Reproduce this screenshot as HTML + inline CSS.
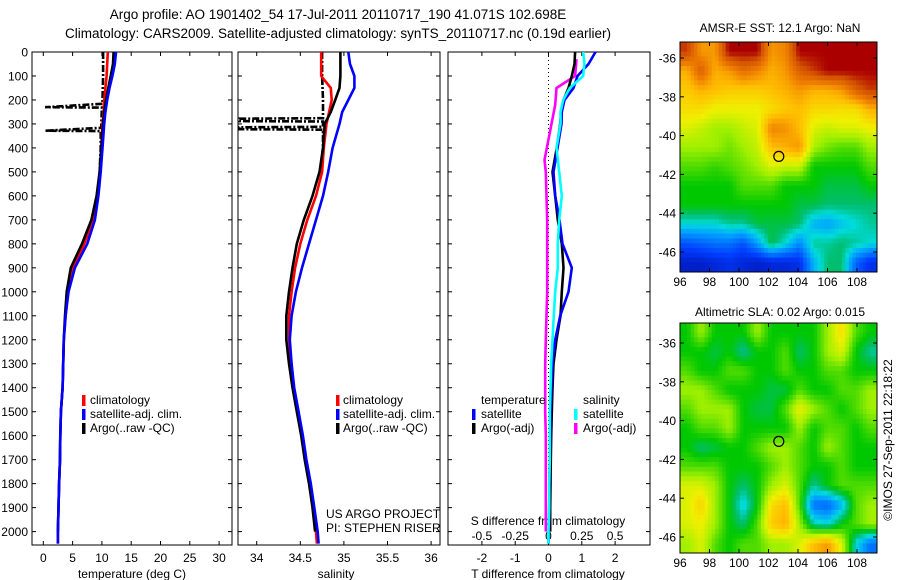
<!DOCTYPE html>
<html><head><meta charset="utf-8"><style>
body{margin:0;background:#fff;}
svg{display:block;font-family:"Liberation Sans",sans-serif;}
</style></head><body>
<svg id="fig" width="900" height="580" viewBox="0 0 900 580" xmlns="http://www.w3.org/2000/svg">
<text x="338" y="19" font-size="13.5" text-anchor="middle">Argo profile: AO 1901402_54 17-Jul-2011 20110717_190 41.071S 102.698E</text>
<text x="338" y="38" font-size="13.5" text-anchor="middle">Climatology: CARS2009. Satellite-adjusted climatology: synTS_20110717.nc (0.19d earlier)</text>
<g id="g"></g>
</svg>
<script>
// ---- data ----
const depths = [0,50,100,150,200,250,300,400,500,600,700,800,900,1000,1100,1200,1300,1400,1500,1600,1700,1800,1900,2000,2050];
const tempClim = [11,10.9,10.8,10.6,10.4,10.3,10.1,9.9,9.7,9.3,8.5,7.0,5.0,4.2,3.8,3.5,3.4,3.3,3.0,2.9,2.85,2.7,2.6,2.5,2.5];
const tempSat  = [12.4,12.2,11.8,11.3,10.9,10.6,10.4,10.1,9.8,9.4,8.8,7.5,5.4,4.3,3.8,3.5,3.4,3.3,3.0,2.9,2.85,2.7,2.6,2.5,2.5];
const argoDepths = [0,50,100,150,200,250,300,400,500,600,700,800,900,1000,1100,1200,1300,1400,1500,1600,1700,1800,1900,2000];
const tempArgo = [12,11.9,11.5,11.1,10.7,10.4,10.2,9.9,9.6,9.1,8.2,6.6,4.7,4.0,3.7,3.5,3.4,3.3,3.0,2.9,2.85,2.7,2.6,2.5];
const rawTempDepths = [0,100,200,216,230,232,300,316,328,330,400,500];
const rawTemp = [10.2,10.2,10.1,10.1,0.3,10.0,9.9,9.9,0.3,9.8,9.8,9.6];
const salClim = [34.74,34.74,34.74,34.85,34.86,34.83,34.80,34.77,34.75,34.68,34.58,34.5,34.44,34.4,34.37,34.37,34.39,34.42,34.47,34.52,34.56,34.61,34.65,34.68,34.69];
const salSat  = [35.05,35.07,35.12,35.12,35.05,34.98,34.95,34.87,34.82,34.76,34.68,34.6,34.52,34.45,34.4,34.38,34.4,34.43,34.48,34.53,34.57,34.62,34.66,34.7,34.71];
const salArgo = [34.96,34.96,34.96,34.95,34.9,34.85,34.78,34.76,34.72,34.64,34.54,34.46,34.41,34.37,34.34,34.34,34.37,34.41,34.46,34.51,34.55,34.6,34.64,34.67];
const rawSalDepths = [0,100,200,276,278,288,290,312,314,322,324,400,500];
const rawSal = [34.75,34.75,34.76,34.76,33.8,33.8,34.76,34.76,33.8,33.8,34.76,34.76,34.73];
const tDiffSat  = [1.41,1.2,0.87,0.75,0.48,0.4,0.39,0.27,0.15,0.2,0.33,0.42,0.7,0.6,0.35,0.2,0.12,0.09,0.06,0.05,0.04,0.03,0.02,0.01,0.0];
const tDiffArgo = [0.8,0.78,0.7,0.6,0.45,0.38,0.35,0.25,0.12,0.2,0.28,0.4,0.45,0.4,0.36,0.24,0.15,0.12,0.1,0.08,0.07,0.06,0.05,0.05];
const sDiffSat  = [0.26,0.27,0.26,0.16,0.11,0.09,0.09,0.06,0.08,0.1,0.08,0.07,0.07,0.05,0.04,0.03,0.02,0.015,0.01,0.01,0.01,0.005,0.005,0.0,0.0];
const sDiffArgoDepths = [30,100,150,220,450,500,600,700,800,900,1000,1100,1200,1300,1400,1500,1600,1700,1800,1900,2000];
const sDiffArgo = [0.21,0.2,0.06,0.05,-0.03,-0.02,-0.015,-0.01,-0.01,-0.01,-0.01,-0.015,-0.02,-0.025,-0.025,-0.025,-0.02,-0.02,-0.02,-0.02,-0.02];
const depthTicks = [0,100,200,300,400,500,600,700,800,900,1000,1100,1200,1300,1400,1500,1600,1700,1800,1900,2000];
const tempTicks = [0,5,10,15,20,25,30];
const salTicks = [34,34.5,35,35.5,36];
const tdTicks = [-2,-1,0,1,2];
const sdTicks = [-0.5,-0.25,0,0.25,0.5];
const sdTickLabels = ["-0.5","-0.25","0","0.25","0.5"];
const lonTicks = [96,98,100,102,104,106,108];
const latTicks = [-36,-38,-40,-42,-44,-46];
const sstGrid = [
[.9,.75,.75,.95,.95,.95,.75,.78,.95,.95,.95,.95,.95,.95],
[.72,.85,.72,.75,.82,.78,.72,.75,.85,.9,.95,.95,.95,.95],
[.68,.72,.7,.68,.68,.68,.7,.72,.75,.72,.72,.75,.85,.9],
[.65,.65,.62,.62,.62,.62,.65,.68,.7,.66,.66,.65,.65,.72],
[.6,.58,.55,.55,.58,.6,.78,.76,.7,.6,.58,.6,.6,.62],
[.55,.55,.55,.52,.55,.58,.7,.72,.75,.56,.52,.5,.5,.55],
[.5,.5,.48,.5,.52,.55,.6,.58,.58,.45,.45,.45,.45,.5],
[.45,.45,.45,.45,.5,.5,.5,.45,.45,.45,.42,.42,.42,.45],
[.45,.45,.45,.45,.45,.45,.45,.45,.42,.42,.4,.4,.4,.4],
[.35,.35,.35,.38,.38,.42,.42,.42,.4,.3,.28,.32,.35,.38],
[.18,.2,.22,.22,.18,.28,.42,.35,.25,.38,.38,.4,.38,.35],
[.08,.08,.1,.12,.1,.08,.1,.1,.12,.3,.4,.4,.2,.12]];
const slaGrid = [
[.45,.55,.45,.45,.45,.55,.45,.45,.45,.45,.55,.65,.5,.45],
[.45,.45,.42,.45,.38,.45,.45,.5,.4,.45,.55,.6,.45,.38],
[.5,.45,.45,.5,.5,.45,.45,.5,.45,.45,.5,.5,.45,.45],
[.55,.55,.5,.45,.45,.45,.42,.42,.5,.45,.45,.5,.5,.55],
[.5,.55,.55,.55,.45,.42,.42,.5,.62,.55,.5,.45,.5,.55],
[.45,.5,.5,.55,.45,.45,.45,.45,.55,.45,.5,.5,.45,.5],
[.45,.4,.42,.45,.45,.5,.55,.55,.5,.45,.55,.5,.45,.45],
[.5,.5,.5,.45,.45,.45,.5,.55,.5,.45,.45,.5,.45,.45],
[.6,.6,.55,.45,.4,.45,.55,.6,.5,.38,.45,.5,.5,.5],
[.6,.67,.55,.45,.33,.45,.65,.7,.5,.22,.2,.3,.5,.55],
[.6,.62,.55,.45,.4,.5,.68,.72,.55,.38,.35,.45,.5,.55],
[.55,.6,.5,.45,.5,.5,.55,.55,.6,.7,.75,.6,.35,.22]];
const cmapStops = [0,0.15,0.28,0.35,0.4,0.45,0.55,0.62,0.7,0.78,0.88,0.95];
const cmapColors = [[0,0,140],[0,60,255],[0,160,255],[0,220,220],[0,190,110],[0,200,0],[160,240,0],[240,240,0],[255,190,0],[240,130,0],[210,80,0],[170,0,0]];

// ---- scales ----
const NS="http://www.w3.org/2000/svg";
const G=document.getElementById('g');
const yD=d=>52+d*0.2398;
const xT=v=>43.3+v*5.86;
const xS=v=>256.7+(v-34)*87.2;
const xTD=v=>548.5+v*33.3;
const xSD=v=>548.5+v*133.2;
const lonX=l=>680+(l-96)*14.75;
const latY1=l=>58-(l+36)*19.4;
const latY2=l=>343-(l+36)*19.4;
function mk(tag,attrs,parent){const e=document.createElementNS(NS,tag);for(const k in attrs)e.setAttribute(k,attrs[k]);(parent||G).appendChild(e);return e;}
function line(xs,ds,xf,color,dash,name){
  const pts=xs.map((v,i)=>xf(v).toFixed(1)+','+yD(ds[i]).toFixed(1)).join(' ');
  const p=mk('polyline',{points:pts,fill:'none',stroke:color,'stroke-width':2.6});
  if(dash)p.setAttribute('stroke-dasharray',dash);
  
  
}
function frame(x0,x1,name){
  const r=mk('rect',{x:x0,y:52,width:x1-x0,height:493,fill:'none',stroke:'#000','stroke-width':1});
  
  
  depthTicks.forEach(d=>{mk('line',{x1:x0,x2:x0+4,y1:yD(d),y2:yD(d),stroke:'#000'});mk('line',{x1:x1-4,x2:x1,y1:yD(d),y2:yD(d),stroke:'#000'});});
}
function txt(x,y,s,anchor,size,name,parent){const t=mk('text',{x:x,y:y,'font-size':size||12,'text-anchor':anchor||'start'},parent);t.textContent=s;
  
  
  return t;}
function xticks(ticks,xf,x0,x1,labels,name){ticks.forEach((v,i)=>{const x=xf(v);mk('line',{x1:x,x2:x,y1:545,y2:541,stroke:'#000'});mk('line',{x1:x,x2:x,y1:52,y2:56,stroke:'#000'});
  txt(x,562,labels?labels[i]:String(v),'middle',12,name);});}
function mark(x,y,c,name){const r=mk('rect',{x:x,y:y-9,width:3.5,height:11,fill:c});
  
  }

// ---- panel 1 temperature ----
frame(32,232,'temperature-panel');
depthTicks.forEach(d=>txt(28,yD(d)+4.5,String(d),'end',12,'depth-tick-label'));
xticks(tempTicks,xT,32,232,null,'temp-tick-label');
txt(132,578,'temperature (deg C)','middle',12,'temp-axis-title');
line(rawTemp,rawTempDepths,xT,'#000','7,2,2,2','temp-argo-raw-line');
line(tempClim,depths,xT,'#f00',null,'temp-climatology-line');
line(tempArgo,argoDepths,xT,'#000',null,'temp-argo-line');
line(tempSat,depths,xT,'#00f',null,'temp-satellite-line');
mark(82,404,'#f00','legend-climatology-mark');txt(90,404,'climatology','start',12,'legend-climatology');
mark(82,418,'#00f','legend-satellite-mark');txt(90,418,'satellite-adj. clim.','start',12,'legend-satellite');
mark(82,432,'#000','legend-argo-mark');txt(90,432,'Argo(..raw -QC)','start',12,'legend-argo');

// ---- panel 2 salinity ----
frame(238,440,'salinity-panel');
xticks(salTicks,xS,238,440,null,'sal-tick-label');
txt(336,578,'salinity','middle',12,'salinity-axis-title');
line(rawSal,rawSalDepths,xS,'#000','7,2,2,2','sal-argo-raw-line');
line(salClim,depths,xS,'#f00',null,'sal-climatology-line');
line(salArgo,argoDepths,xS,'#000',null,'sal-argo-line');
line(salSat,depths,xS,'#00f',null,'sal-satellite-line');
mark(336,404,'#f00','legend2-climatology-mark');txt(343,404,'climatology','start',12,'legend2-climatology');
mark(336,418,'#00f','legend2-satellite-mark');txt(343,418,'satellite-adj. clim.','start',12,'legend2-satellite');
mark(336,432,'#000','legend2-argo-mark');txt(343,432,'Argo(..raw -QC)','start',12,'legend2-argo');
txt(326,518,'US ARGO PROJECT','start',12,'project-label');
txt(326,532,'PI: STEPHEN RISER','start',12,'pi-label');

// ---- panel 3 differences ----
frame(448,650,'difference-panel');
mk('line',{x1:xTD(0),x2:xTD(0),y1:52,y2:545,stroke:'#000','stroke-dasharray':'1,3'});
tdTicks.forEach(v=>{const x=xTD(v);mk('line',{x1:x,x2:x,y1:545,y2:541,stroke:'#000'});mk('line',{x1:x,x2:x,y1:52,y2:56,stroke:'#000'});txt(x,562,String(v),'middle',12,'tdiff-tick-label');});
sdTicks.forEach((v,i)=>txt(xSD(v),540,sdTickLabels[i],'middle',12,'sdiff-tick-label'));
txt(548,525,'S difference from climatology','middle',12,'sdiff-axis-title');
txt(548,578,'T difference from climatology','middle',12,'tdiff-axis-title');
line(sDiffArgo,sDiffArgoDepths,xSD,'#f0f',null,'sdiff-argo-line');
line(tDiffArgo,argoDepths,xTD,'#000',null,'tdiff-argo-line');
line(tDiffSat,depths,xTD,'#00f',null,'tdiff-satellite-line');
line(sDiffSat,depths,xSD,'#0ff',null,'sdiff-satellite-line');
txt(481,404,'temperature','start',12,'legend3-temperature-header');
txt(583,404,'salinity','start',12,'legend3-salinity-header');
mark(472,418,'#00f','legend3-tsat-mark');txt(481,418,'satellite','start',12,'legend3-tsat');
mark(472,432,'#000','legend3-targo-mark');txt(481,432,'Argo(-adj)','start',12,'legend3-targo');
mark(574,418,'#0ff','legend3-ssat-mark');txt(583,418,'satellite','start',12,'legend3-ssat');
mark(574,432,'#f0f','legend3-sargo-mark');txt(583,432,'Argo(-adj)','start',12,'legend3-sargo');

// ---- maps ----
function cmap(v){
  if(v<=cmapStops[0])return 'rgb('+cmapColors[0].join(',')+')';
  for(let i=1;i<cmapStops.length;i++){if(v<=cmapStops[i]){const t=(v-cmapStops[i-1])/(cmapStops[i]-cmapStops[i-1]);const a=cmapColors[i-1],b=cmapColors[i];
    return 'rgb('+[0,1,2].map(k=>Math.round(a[k]+(b[k]-a[k])*t)).join(',')+')';}}
  return 'rgb('+cmapColors[cmapColors.length-1].join(',')+')';
}
function sample(grid,fy,fx){const R=grid.length,C=grid[0].length;
  const y=Math.min(R-1,Math.max(0,fy)),x=Math.min(C-1,Math.max(0,fx));
  const i0=Math.floor(y),j0=Math.floor(x),i1=Math.min(R-1,i0+1),j1=Math.min(C-1,j0+1),ty=y-i0,tx=x-j0;
  return grid[i0][j0]*(1-ty)*(1-tx)+grid[i0][j1]*(1-ty)*tx+grid[i1][j0]*ty*(1-tx)+grid[i1][j1]*ty*tx;}
function map(grid,top,latY,name,title,titleY){
  const x0=680,x1=877,y0=top,y1=top+230;
  const gg=mk('g',{});
  
  
  const rows=grid.length,cols=grid[0].length,S=4,nr=rows*S,nc=cols*S,cw=(x1-x0)/nc,ch=(y1-y0)/nr;
  for(let i=0;i<nr;i++)for(let j=0;j<nc;j++){
    const v=sample(grid,(i+0.5)/S-0.5,(j+0.5)/S-0.5);
    mk('rect',{x:(x0+j*cw).toFixed(1),y:(y0+i*ch).toFixed(1),width:(cw+0.5).toFixed(1),height:(ch+0.5).toFixed(1),fill:cmap(v)},gg);}
  mk('rect',{x:x0,y:y0,width:x1-x0,height:y1-y0,fill:'none',stroke:'#000'});
  lonTicks.forEach(l=>{const x=lonX(l);mk('line',{x1:x,x2:x,y1:y1,y2:y1-4,stroke:'#000'});mk('line',{x1:x,x2:x,y1:y0,y2:y0+4,stroke:'#000'});txt(x,y1+14,String(l),'middle',12,'lon-tick-label');});
  latTicks.forEach(l=>{const y=latY(l);mk('line',{x1:x0,x2:x0+4,y1:y,y2:y,stroke:'#000'});mk('line',{x1:x1-4,x2:x1,y1:y,y2:y,stroke:'#000'});txt(x0-4,y+4.5,String(l),'end',12,'lat-tick-label');});
  const c=mk('circle',{cx:lonX(102.698),cy:latY(-41.071),r:5,fill:'none',stroke:'#000','stroke-width':1.2});
  
  
  txt(780,titleY,title,'middle',12,name+'-title');
}
map(sstGrid,42,latY1,'sst-map','AMSR-E SST: 12.1 Argo: NaN',32);
map(slaGrid,323,latY2,'sla-map','Altimetric SLA: 0.02 Argo: 0.015',316);
const cr=txt(0,0,'\u00a9IMOS 27-Sep-2011 22:18:22','middle',12,'copyright-timestamp');
cr.setAttribute('transform','translate(892,440) rotate(-90)');
</script>
</body></html>
